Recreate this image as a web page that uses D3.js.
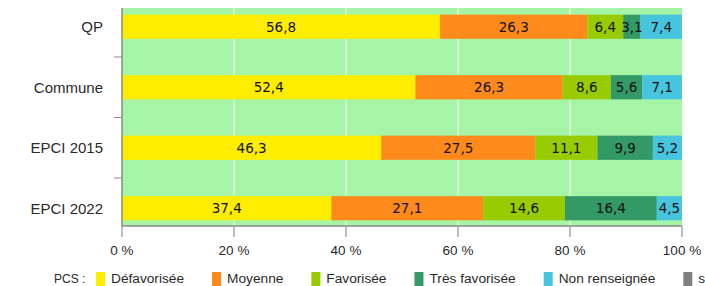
<!DOCTYPE html>
<html><head><meta charset="utf-8">
<script src="https://cdn.jsdelivr.net/npm/d3@7"></script>
<style>body{margin:0;background:#fff}svg{display:block}</style>
</head><body>
<svg id="c" width="705" height="286"></svg>
<script>
const categories = ["QP", "Commune", "EPCI 2015", "EPCI 2022"];
const seriesNames = ["Défavorisée", "Moyenne", "Favorisée", "Très favorisée", "Non renseignée", "s"];
const seriesColors = ["#ffed00", "#ff8a1c", "#99cc00", "#339966", "#47c4de", "#808080"];
const defavorisee = [56.8, 52.4, 46.3, 37.4];
const moyenne = [26.3, 26.3, 27.5, 27.1];
const favorisee = [6.4, 8.6, 11.1, 14.6];
const tresFavorisee = [3.1, 5.6, 9.9, 16.4];
const nonRenseignee = [7.4, 7.1, 5.2, 4.5];
const secret = [0, 0, 0, 0];
const xTicks = [0, 20, 40, 60, 80, 100];
const legendTitle = "PCS :";

const values = [defavorisee, moyenne, favorisee, tresFavorisee, nonRenseignee, secret];
const rows = categories.map((c, i) => {
  const r = {cat: c};
  seriesNames.forEach((s, j) => r[s] = values[j][i]);
  return r;
});
const stacked = d3.stack().keys(seriesNames)(rows);

const svg = d3.select("#c");
const L = 122, R = 682, T = 8, B = 226;
const x = d3.scaleLinear().domain([0, 100]).range([L, R]);
const y = d3.scaleBand().domain(categories).range([-3.5, 238.5]).paddingInner(0.6).paddingOuter(0.3);

svg.append("rect").attr("x", L).attr("y", T).attr("width", R - L).attr("height", B - T).attr("fill", "#a6f5a6");

svg.append("g").selectAll("line").data(xTicks.filter(t => t > 0 && t < 100)).join("line")
  .attr("x1", d => x(d)).attr("x2", d => x(d)).attr("y1", T).attr("y2", B)
  .attr("stroke", "#fff").attr("stroke-width", 1);

const g = svg.append("g");
stacked.forEach((layer, j) => {
  g.append("g").selectAll("rect").data(layer).join("rect")
    .attr("x", d => x(d[0])).attr("width", d => x(d[1]) - x(d[0]))
    .attr("y", d => y(d.data.cat)).attr("height", y.bandwidth())
    .attr("fill", seriesColors[j]);
});
stacked.forEach((layer, j) => {
  g.append("g").selectAll("text").data(layer.filter(d => d[1] - d[0] > 0)).join("text")
    .attr("x", d => x((d[0] + d[1]) / 2)).attr("y", d => y(d.data.cat) + y.bandwidth() / 2)
    .attr("text-anchor", "middle").attr("dominant-baseline", "central")
    .attr("font-family", "DejaVu Sans").attr("font-size", 13.5).attr("fill", "#111")
    .text(d => d3.format(".1f")(d[1] - d[0]).replace(".", ","));
});

// y axis
svg.append("line").attr("x1", L).attr("x2", L).attr("y1", T).attr("y2", B).attr("stroke", "#888").attr("stroke-width", 1.5);
const step = y.step();
svg.append("g").selectAll("line").data(categories.slice(1)).join("line")
  .attr("x1", L - 8).attr("x2", L)
  .attr("y1", d => y(d) - step * y.paddingInner() / 2).attr("y2", d => y(d) - step * y.paddingInner() / 2)
  .attr("stroke", "#888").attr("stroke-width", 1);
svg.append("g").selectAll("text").data(categories).join("text")
  .attr("x", L - 19).attr("y", d => y(d) + y.bandwidth() / 2)
  .attr("text-anchor", "end").attr("dominant-baseline", "central")
  .attr("font-family", "Liberation Sans, Arial, sans-serif").attr("font-size", 15).attr("fill", "#2a2a2a")
  .text(d => d);

// x axis
svg.append("line").attr("x1", L).attr("x2", R).attr("y1", B).attr("y2", B).attr("stroke", "#888").attr("stroke-width", 1.5);
svg.append("g").selectAll("line").data(xTicks).join("line")
  .attr("x1", d => x(d)).attr("x2", d => x(d)).attr("y1", B).attr("y2", B + 11)
  .attr("stroke", "#aaa").attr("stroke-width", 1.5);
svg.append("g").selectAll("text").data(xTicks).join("text")
  .attr("x", d => x(d)).attr("y", 255)
  .attr("text-anchor", "middle")
  .attr("font-family", "Liberation Sans, Arial, sans-serif").attr("font-size", 13.5).attr("fill", "#2a2a2a")
  .text(d => d + " %");

// legend
const lg = svg.append("g").attr("font-family", "Liberation Sans, Arial, sans-serif").attr("font-size", 13.7).attr("fill", "#2a2a2a");
lg.append("text").attr("x", 54).attr("y", 282.5).attr("font-size", 12).text(legendTitle);
let cx = 96;
seriesNames.forEach((s, j) => {
  lg.append("rect").attr("x", cx).attr("y", 272).attr("width", 9).attr("height", 16).attr("fill", seriesColors[j]);
  const t = lg.append("text").attr("x", cx + 15).attr("y", 282.5).text(s);
  cx += 15 + t.node().getComputedTextLength() + 28;
});
</script>
</body></html>
